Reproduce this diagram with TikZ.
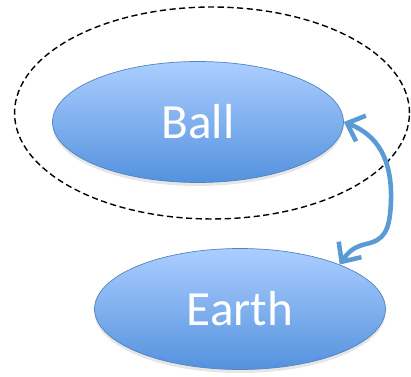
\documentclass[tikz,border=0pt]{standalone}
\usepackage{fontspec}
\setmainfont{Carlito}
\usetikzlibrary{arrows.meta,shapes.geometric,shadows}
\definecolor{bodytop}{RGB}{172,206,255}
\definecolor{bodybot}{RGB}{84,146,222}
\definecolor{bodyedge}{RGB}{82,132,192}
\definecolor{linkblue}{RGB}{91,155,213}
\tikzset{
  body/.style={ellipse,draw=bodyedge,thin,top color=bodytop,bottom color=bodybot,
               minimum width=5.82cm,minimum height=2.42cm,text=white,
               font=\fontsize{28}{32}\selectfont,
               drop shadow={opacity=0.2,shadow xshift=0pt,shadow yshift=-2pt}},
  system/.style={ellipse,draw,dash pattern=on 3.5pt off 2pt,thick,
                 minimum width=7.9cm,minimum height=4.24cm},
  link/.style={{Straight Barb[length=3mm,width=5.5mm]}-{Straight Barb[length=3mm,width=5.5mm]},
               line width=2.6pt,draw=linkblue,line cap=round}
}
\begin{document}
\begin{tikzpicture}[x=0.02cm,y=-0.02cm]
  \useasboundingbox (0,0) rectangle (411,377);
  \node[system] (sys) at (212,113) {};
  \node[body] (ball) at (198,122) {Ball};
  \node[body] (earth) at (240,309) {Earth};
  \draw[link] (ball.east) .. controls (378,135) and (392,160) .. (391,200)
    .. controls (390,232) and (384,240) .. (366,244)
    .. controls (354,247) and (349,251) .. (earth.24);
\end{tikzpicture}
\end{document}
